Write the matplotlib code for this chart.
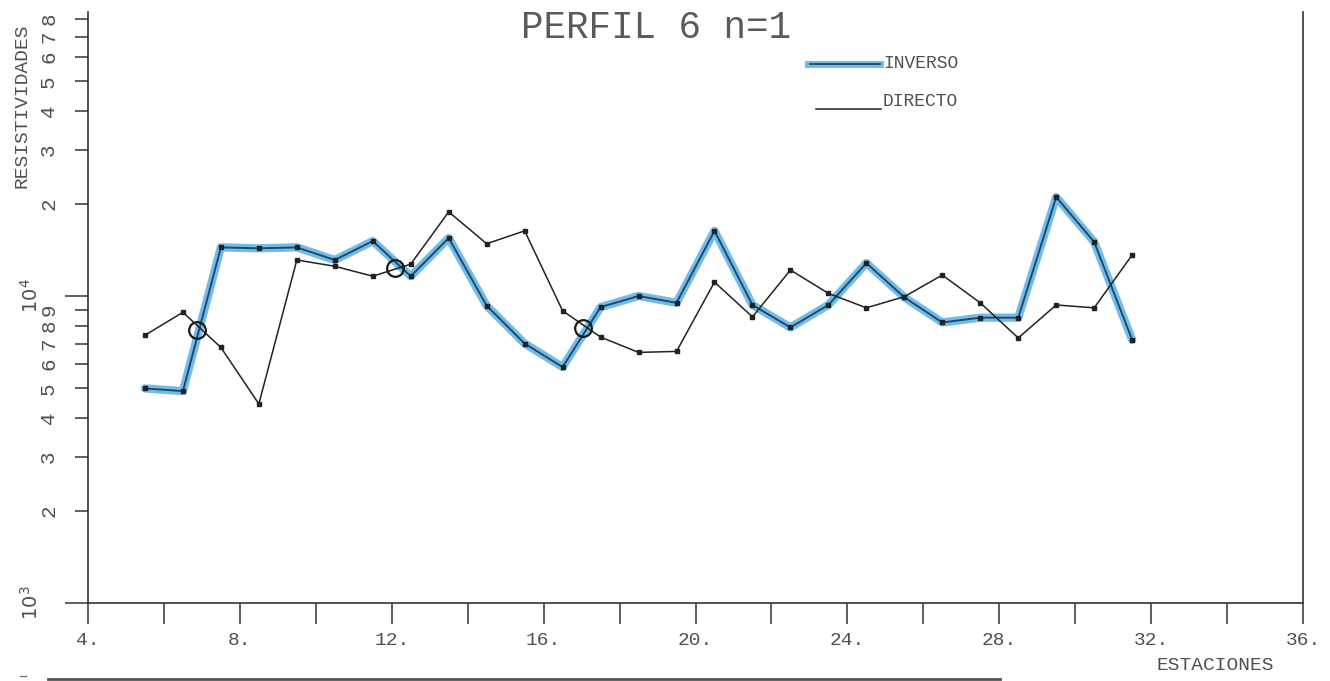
import numpy as np
import matplotlib
matplotlib.use('Agg')
import matplotlib.pyplot as plt
from matplotlib.ticker import FixedLocator, FixedFormatter
from matplotlib.lines import Line2D

# Stations (ESTACIONES) and apparent resistivities
estaciones = [5.5, 6.5, 7.5, 8.5, 9.5, 10.5, 11.5, 12.5, 13.5, 14.5, 15.5, 16.5, 17.5, 18.5,
              19.5, 20.5, 21.5, 22.5, 23.5, 24.5, 25.5, 26.5, 27.5, 28.5, 29.5, 30.5, 31.5]
inverso = [5000, 4900, 14400, 14300, 14400, 13100, 15100, 11600, 15450, 9300, 7000, 5870, 9200, 10000,
           9500, 16300, 9350, 7900, 9350, 12800, 9900, 8200, 8500, 8500, 21000, 15000, 7200]
directo = [7450, 8850, 6800, 4450, 13100, 12500, 11600, 12700, 18800, 14800, 16300, 8950, 7350, 6550,
           6600, 11100, 8550, 12150, 10200, 9150, 9950, 11700, 9500, 7300, 9350, 9150, 13600]

# crossing points marked with circles
cruce_x = [6.87, 12.09, 17.04]
cruce_y = [7750, 12300, 7850]

W, H = 1330, 681
fig = plt.figure(figsize=(W / 100, H / 100), dpi=100)
ax = fig.add_axes([88 / W, 1 - 603 / H, (1303 - 88) / W, (603 - 12) / H])

font = 'Liberation Mono'
tcol = '#505050'

# inverso: light blue marker pen with dark core
ax.plot(estaciones, inverso, color='#72bde8', lw=6, solid_capstyle='round', zorder=2)
ax.plot(estaciones, inverso, color='#22486e', lw=1.4, marker='s', ms=3.5,
        mfc='#222222', mec='#222222', zorder=3)
ax.plot(estaciones, directo, color='#222222', lw=1.1, marker='s', ms=3.5,
        mfc='#222222', mec='#222222', zorder=4)
ax.plot(cruce_x, cruce_y, 'o', ms=12, mfc='none', mec='#1a1a1a', mew=1.6, zorder=5)

ax.set_yscale('log')
ax.set_xlim(4, 36)
ax.set_ylim(1000, 10 ** (4 + 284 / 307))

ax.spines['top'].set_visible(False)
for s in ['left', 'bottom', 'right']:
    ax.spines[s].set_linewidth(1.2)
    ax.spines[s].set_color('#333333')

# x ticks every 2, labels every 4
xt = list(range(4, 37, 2))
ax.xaxis.set_major_locator(FixedLocator(xt))
ax.xaxis.set_major_formatter(FixedFormatter(['%d.' % v if v % 4 == 0 else '' for v in xt]))
ax.tick_params(axis='x', direction='out', length=15, width=1.1, color='#333333', pad=6,
               labelsize=14, labelcolor=tcol)

# y ticks
ymaj = [1e3, 1e4]
ymin = [2e3, 3e3, 4e3, 5e3, 6e3, 7e3, 8e3, 9e3, 2e4, 3e4, 4e4, 5e4, 6e4, 7e4, 8e4]
ymin_lab = ['2', '3', '4', '5', '6', '7', '8', '9', '2', '3', '4', '5', '6', '7', '8']
ax.yaxis.set_major_locator(FixedLocator(ymaj))
ax.yaxis.set_major_formatter(FixedFormatter([r'$10^{3}$', r'$10^{4}$']))
ax.yaxis.set_minor_locator(FixedLocator(ymin))
ax.yaxis.set_minor_formatter(FixedFormatter(ymin_lab))
ax.tick_params(axis='y', which='major', direction='out', length=16.5, width=1.1,
               color='#333333', pad=17, labelsize=14, labelcolor=tcol)
ax.tick_params(axis='y', which='minor', direction='out', length=9.5, width=1.1,
               color='#333333', pad=12, labelsize=15, labelcolor=tcol)
for lab in ax.yaxis.get_ticklabels(which='both'):
    lab.set_rotation(90)
    lab.set_va('center')
    lab.set_fontfamily(font)
for lab in ax.xaxis.get_ticklabels():
    lab.set_fontfamily(font)

# texts
fig.text(656 / W, 1 - 28 / H, 'PERFIL 6 n=1', ha='center', va='center', fontsize=27,
         family=font, color='#5a5a5a')
fig.text(22 / W, 1 - 106 / H, 'RESISTIVIDADES', rotation=90, ha='center', va='center',
         fontsize=14, family=font, color=tcol)
fig.text(1215 / W, 1 - 666 / H, 'ESTACIONES', ha='center', va='center', fontsize=14,
         family=font, color=tcol)

# legend
fig.add_artist(Line2D([808 / W, 880 / W], [1 - 64 / H, 1 - 64 / H], color='#72bde8', lw=5))
fig.add_artist(Line2D([810 / W, 880 / W], [1 - 64 / H, 1 - 64 / H], color='#22486e', lw=1.3))
fig.text(883 / W, 1 - 63 / H, 'INVERSO', ha='left', va='center', fontsize=13,
         family=font, color=tcol)
fig.add_artist(Line2D([816 / W, 881 / W], [1 - 109 / H, 1 - 109 / H], color='#222222', lw=1.1))
fig.text(883 / W, 1 - 102 / H, 'DIRECTO', ha='left', va='center', fontsize=13,
         family=font, color=tcol)

# page edge line at the bottom of the scan
fig.add_artist(Line2D([48 / W, 1000 / W], [1 - 679 / H, 1 - 679 / H], color='#555555', lw=2))
fig.add_artist(Line2D([20 / W, 26 / W], [1 - 676 / H, 1 - 676 / H], color='#777777', lw=1))

fig.savefig('out.png', dpi=100)
